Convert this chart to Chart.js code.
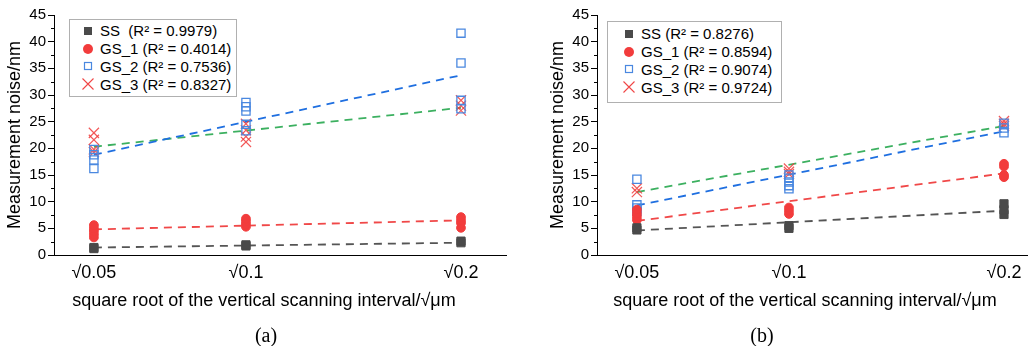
<!DOCTYPE html>
<html>
<head>
<meta charset="utf-8">
<script src="https://cdn.jsdelivr.net/npm/chart.js@4.4.1/dist/chart.umd.min.js"></script>
<style>
  html, body { margin: 0; padding: 0; background: #fff; }
  body { width: 1028px; height: 346px; position: relative; overflow: hidden; font-family: "Liberation Sans", Arial, sans-serif; }
  .panel { position: absolute; top: 0; width: 515px; height: 346px; }
  .legend { position: absolute; border: 1px solid #b0b0b0; background: #fff; font-size: 15px; color: #000; }
  .legend .row { display: flex; align-items: center; white-space: pre; }
  .legend svg { margin-right: 5px; }
  .xtitle { position: absolute; font-size: 18px; white-space: nowrap; transform: translate(-50%, -50%); }
  .caption { position: absolute; font-family: "Liberation Serif", "Times New Roman", serif; font-size: 20px; transform: translate(-50%, -50%); }
</style>
</head>
<body>
<div class="panel" style="left:0"><canvas id="chartA"></canvas></div>
<div class="panel" style="left:543px"><canvas id="chartB"></canvas></div>

<div class="legend" id="legendA" style="left:69px; top:19px; width:166px; height:74px; padding-top:2px"></div>
<div class="legend" id="legendB" style="left:607px; top:21px; width:173px; height:77px; padding-top:3px"></div>

<div class="xtitle" style="left:264px; top:300px">square root of the vertical scanning interval/√μm</div>
<div class="xtitle" style="left:805px; top:300px">square root of the vertical scanning interval/√μm</div>
<div class="caption" style="left:266px; top:335px">(a)</div>
<div class="caption" style="left:762px; top:335px">(b)</div>

<script>
// vertical scanning intervals (µm), plotted at their square root
const intervals = [0.05, 0.1, 0.2];
const xTickLabels = ["√0.05", "√0.1", "√0.2"];
const yTicks = [0, 5, 10, 15, 20, 25, 30, 35, 40, 45];

// panel (a) - repeated measurements at each interval
const ssA  = [[1.2, 1.4], [1.7, 1.9], [2.3, 2.6]];
const gs1A = [[3.3, 3.9, 4.5, 5.0, 5.6], [5.3, 5.8, 6.3, 6.8], [5.1, 6.0, 6.5, 7.1]];
const gs2A = [[16.2, 17.8, 18.8, 19.8], [23.3, 24.5, 27.0, 27.8, 28.6], [27.4, 29.0, 36.0, 41.6]];
const gs3A = [[19.3, 19.8, 21.6, 22.9], [21.2, 22.2, 23.4, 24.6], [27.1, 28.0, 29.0]];
// fitted lines, value at √0.05 and √0.2
const fitSSA  = [1.4, 2.3];
const fitGS1A = [4.8, 6.5];
const fitGS2A = [18.8, 33.7];
const fitGS3A = [20.3, 27.6];
const labelsA = ["SS  (R² = 0.9979)", "GS_1 (R² = 0.4014)", "GS_2 (R² = 0.7536)", "GS_3 (R² = 0.8327)"];

// panel (b)
const ssB  = [[4.7, 5.1], [5.0, 5.5], [7.6, 8.5, 9.6]];
const gs1B = [[6.6, 7.2, 7.8, 8.5], [7.7, 8.3, 8.9], [14.6, 15.0, 16.6, 17.1]];
const gs2B = [[8.2, 8.8, 9.4, 14.2], [12.4, 13.0, 13.7, 14.4, 15.0], [22.9, 23.8, 24.7]];
const gs3B = [[11.8, 12.5], [15.2, 15.6, 16.2], [24.2, 24.6, 25.1]];
const fitSSB  = [4.6, 8.3];
const fitGS1B = [6.4, 15.3];
const fitGS2B = [9.3, 23.2];
const fitGS3B = [11.8, 24.2];
const labelsB = ["SS (R² = 0.8276)", "GS_1 (R² = 0.8594)", "GS_2 (R² = 0.9074)", "GS_3 (R² = 0.9724)"];

Chart.defaults.font.family = '"Liberation Sans", Arial, sans-serif';
Chart.defaults.color = "#000";

const styles = [
    { pointStyle: "rect", radius: 5.8, fill: "#4a4a4a", stroke: "#4a4a4a", width: 1, line: "#555555" },
    { pointStyle: "circle", radius: 4.4, fill: "#f23c3c", stroke: "#f23c3c", width: 1, line: "#f04848" },
    { pointStyle: "rect", radius: 5.8, fill: "rgba(0,0,0,0)", stroke: "#4a88e0", width: 1.3, line: "#1f6fe0" },
    { pointStyle: "crossRot", radius: 7.2, fill: "#f04646", stroke: "rgba(240,60,60,0.85)", width: 1.2, line: "#3cb060" }
];

function toPoints(groups) {
    const pts = [];
    groups.forEach((vals, i) => {
        vals.forEach(v => pts.push({ x: Math.sqrt(intervals[i]), y: v }));
    });
    return pts;
}

function fitPoints(fit) {
    return [
        { x: Math.sqrt(intervals[0]), y: fit[0] },
        { x: Math.sqrt(intervals[intervals.length - 1]), y: fit[1] }
    ];
}

// short minor ticks halfway between labelled y ticks
const minorTicks = {
    id: "minorTicks",
    afterDraw(chart) {
        const y = chart.scales.y;
        const ctx = chart.ctx;
        ctx.save();
        ctx.strokeStyle = "#000";
        ctx.lineWidth = 1;
        for (let i = 0; i < yTicks.length - 1; i++) {
            const py = Math.round(y.getPixelForValue((yTicks[i] + yTicks[i + 1]) / 2)) + 0.5;
            ctx.beginPath();
            ctx.moveTo(y.right - 3, py);
            ctx.lineTo(y.right, py);
            ctx.stroke();
        }
        ctx.restore();
    }
};

function makePanel(canvasId, legendId, series, fits, labels, legendIndent) {
    const datasets = [];
    series.forEach((s, k) => {
        const st = styles[k];
        datasets.push({
            label: labels[k],
            data: toPoints(s),
            pointStyle: st.pointStyle,
            pointRadius: st.radius,
            backgroundColor: st.fill,
            borderColor: st.stroke,
            borderWidth: st.width,
            order: 0
        });
    });
    fits.forEach((f, k) => {
        datasets.push({
            label: "fit " + k,
            data: fitPoints(f),
            showLine: true,
            borderColor: styles[k].line,
            borderWidth: 1.8,
            borderDash: [8, 6],
            pointRadius: 0,
            order: 1
        });
    });

    new Chart(document.getElementById(canvasId), {
        type: "scatter",
        data: { datasets },
        options: {
            responsive: true,
            maintainAspectRatio: false,
            animation: false,
            layout: { padding: { top: 15, right: 3, left: 0, bottom: 0 } },
            plugins: { legend: { display: false }, tooltip: { enabled: false } },
            scales: {
                x: {
                    type: "linear",
                    min: 0.1993,
                    max: 0.475,
                    afterFit: s => { s.height = 91; },
                    afterBuildTicks: s => { s.ticks = intervals.map(v => ({ value: Math.sqrt(v) })); },
                    ticks: {
                        callback: (v, i) => xTickLabels[i],
                        font: { size: 18 },
                        padding: 7,
                        maxRotation: 0
                    },
                    grid: { drawOnChartArea: false, drawTicks: false },
                    border: { color: "#000", width: 1 }
                },
                y: {
                    min: 0,
                    max: 45,
                    afterFit: s => { s.width = 54; },
                    afterBuildTicks: s => { s.ticks = yTicks.map(v => ({ value: v })); },
                    ticks: { font: { size: 15 }, padding: 2 },
                    grid: { drawOnChartArea: false, drawTicks: true, tickLength: 6, color: "#000" },
                    border: { color: "#000", width: 1 },
                    title: {
                        display: true,
                        text: "Measurement noise/nm",
                        font: { size: 18 },
                        padding: { top: 4, bottom: 0 }
                    }
                }
            }
        },
        plugins: [minorTicks]
    });

    // boxed legend like the original figure
    const box = document.getElementById(legendId);
    labels.forEach((lab, k) => {
        const st = styles[k];
        const row = document.createElement("div");
        row.className = "row";
        row.style.height = "17.8px";
        row.style.paddingLeft = legendIndent + "px";
        let shape = "";
        if (k === 0) shape = '<rect x="3" y="3" width="8" height="8" fill="' + st.fill + '"/>';
        if (k === 1) shape = '<circle cx="7" cy="7" r="5" fill="' + st.fill + '"/>';
        if (k === 2) shape = '<rect x="3.5" y="3.5" width="7" height="7" fill="none" stroke="' + st.stroke + '" stroke-width="1.2"/>';
        if (k === 3) shape = '<path d="M1.5 1.5 L12.5 12.5 M12.5 1.5 L1.5 12.5" stroke="#f04646" stroke-width="1.1"/>';
        row.innerHTML = '<svg width="14" height="14">' + shape + '</svg><span>' + lab + '</span>';
        box.appendChild(row);
    });
}

makePanel("chartA", "legendA", [ssA, gs1A, gs2A, gs3A], [fitSSA, fitGS1A, fitGS2A, fitGS3A], labelsA, 11);
makePanel("chartB", "legendB", [ssB, gs1B, gs2B, gs3B], [fitSSB, fitGS1B, fitGS2B, fitGS3B], labelsB, 14);
</script>
</body>
</html>
